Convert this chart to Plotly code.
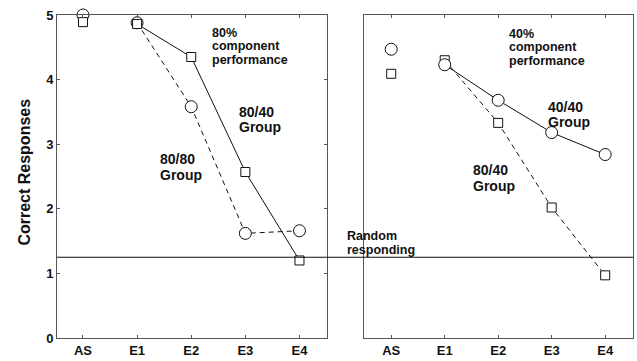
import plotly.graph_objects as go

categories = ["AS", "E1", "E2", "E3", "E4"]
# Left panel: 80% component performance
left_8040 = [4.89, 4.86, 4.35, 2.57, 1.20]   # squares, solid
left_8080 = [5.00, 4.88, 3.58, 1.62, 1.66]   # circles, dashed
# Right panel: 40% component performance
right_4040 = [4.47, 4.23, 3.68, 3.18, 2.84]  # circles, solid
right_8040 = [4.09, 4.30, 3.33, 2.02, 0.97]  # squares, dashed
random_level = 1.25
y_ticks = [0, 1, 2, 3, 4, 5]

W, H = 637, 361
ML, MR, MT, MB = 57, 3, 15, 18
PW, PH = W - ML - MR, H - MT - MB

def px(x):
    return (x - ML) / PW

def py(y):
    return (H - MB - y) / PH

FONT = "Liberation Sans, Arial, sans-serif"
BLACK = "#111"
AX = "#555"

fig = go.Figure()

def add_series(vals, xa, ya, symbol, size, dash):
    fig.add_trace(go.Scatter(x=categories[1:], y=vals[1:], mode="lines",
                             line=dict(color=BLACK, width=1, dash=dash),
                             xaxis=xa, yaxis=ya, showlegend=False, hoverinfo="skip"))
    fig.add_trace(go.Scatter(x=categories, y=vals, mode="markers",
                             marker=dict(symbol=symbol, size=size, color="white",
                                         line=dict(color=BLACK, width=1)),
                             xaxis=xa, yaxis=ya, showlegend=False, cliponaxis=False))

add_series(left_8080, "x", "y", "circle", 12, "5px,4px")
add_series(left_8040, "x", "y", "square", 9, "solid")
add_series(right_8040, "x2", "y2", "square", 9, "5px,4px")
add_series(right_4040, "x2", "y2", "circle", 12, "solid")

tickfont = dict(family=FONT, size=13, color=BLACK, weight="bold")

fig.update_layout(
    width=W, height=H,
    margin=dict(l=ML, r=MR, t=MT, b=MB),
    paper_bgcolor="white", plot_bgcolor="white",
    xaxis=dict(domain=[0, px(327)], type="category", categoryorder="array",
               categoryarray=categories, range=[-0.48, 4.5],
               showline=True, linecolor=AX, linewidth=1, mirror="ticks",
               ticks="inside", ticklen=3, tickcolor=AX, showgrid=False,
               tickfont=tickfont, zeroline=False),
    yaxis=dict(range=[0, 5], tickvals=y_ticks, showline=True, linecolor=AX,
               linewidth=1, mirror="ticks", ticks="inside", ticklen=3,
               tickcolor=AX, showgrid=False, zeroline=False, tickfont=tickfont),
    xaxis2=dict(domain=[px(365), px(634)], anchor="y2", type="category",
                categoryorder="array", categoryarray=categories, range=[-0.5, 4.52],
                showline=True, linecolor=AX, linewidth=1, mirror="ticks",
                ticks="inside", ticklen=3, tickcolor=AX, showgrid=False,
                tickfont=tickfont, zeroline=False),
    yaxis2=dict(anchor="x2", range=[0, 5], tickvals=y_ticks, showline=True,
                linecolor=AX, linewidth=1, mirror=True, ticks="",
                showticklabels=False, showgrid=False, zeroline=False),
)

fig.add_shape(type="line", xref="paper", yref="y", x0=0, x1=px(634),
              y0=random_level, y1=random_level, line=dict(color=BLACK, width=1))

def label(text, xl, baseline, size):
    fig.add_annotation(text=text, xref="paper", yref="paper", x=px(xl),
                       y=py(baseline - 0.33 * size), xanchor="left", yanchor="middle",
                       showarrow=False,
                       font=dict(family=FONT, size=size, color=BLACK, weight="bold"))

# left panel labels
label("80%", 210, 37, 12.5)
label("component", 210, 50.8, 12.5)
label("performance", 210, 64.6, 12.5)
label("80/40", 237, 118, 14)
label("Group", 237, 133.7, 14)
label("80/80", 158, 166, 14)
label("Group", 158, 181.7, 14)
label("Random", 345, 244, 12.5)
label("responding", 345, 257.8, 12.5)
# right panel labels
label("40%", 508, 38, 12.5)
label("component", 508, 51.8, 12.5)
label("performance", 508, 65.6, 12.5)
label("40/40", 547, 113, 14)
label("Group", 547, 128.7, 14)
label("80/40", 472, 177.5, 14)
label("Group", 472, 193.2, 14)

fig.add_annotation(text="Correct Responses", xref="paper", yref="paper",
                   x=px(25), y=py(175), textangle=-90, showarrow=False,
                   xanchor="center", yanchor="middle",
                   font=dict(family=FONT, size=16, color=BLACK, weight="bold"))

fig.write_html("out.html")
